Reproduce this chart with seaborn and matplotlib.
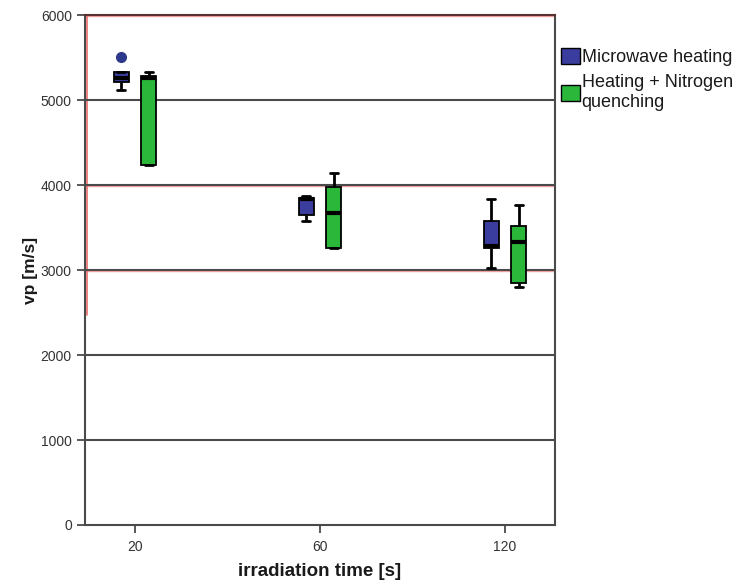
import matplotlib
matplotlib.use("Agg")
import matplotlib.pyplot as plt
import matplotlib.transforms as mtransforms
from matplotlib.patches import Patch
import pandas as pd
import seaborn as sns

# Irradiation times (categories) and treatment methods (hue)
times = ["20", "60", "120"]
methods = ["Microwave heating", "Heating + Nitrogen quenching"]
legend_labels = ["Microwave heating", "Heating + Nitrogen\nquenching"]

# P-wave velocity measurements [m/s] per method and irradiation time
mw_20 = [5118, 5212, 5259, 5329, 5510]
mw_60 = [3576, 3647, 3830, 3847, 3870]
mw_120 = [3024, 3259, 3280, 3576, 3835]
nq_20 = [4235, 4235, 5262, 5282, 5329]
nq_60 = [3259, 3259, 3670, 3976, 4141]
nq_120 = [2800, 2847, 3329, 3518, 3765]

y_ticks = [0, 1000, 2000, 3000, 4000, 5000, 6000]

groups = {
    (methods[0], "20"): mw_20, (methods[0], "60"): mw_60, (methods[0], "120"): mw_120,
    (methods[1], "20"): nq_20, (methods[1], "60"): nq_60, (methods[1], "120"): nq_120,
}
rows = [(m, t, v) for (m, t), vals in groups.items() for v in vals]
df = pd.DataFrame(rows, columns=["method", "time", "vp"])

blue = "#3a3d9e"
green = "#2bb83a"
grid_col = "#4a4a4a"

sns.set_style("white")
plt.rcParams["font.family"] = ["Liberation Sans", "DejaVu Sans"]

fig = plt.figure(figsize=(7.38, 5.81), dpi=100)
ax = fig.add_axes([85 / 738, 1 - 525 / 581, 470 / 738, 510 / 581])

# horizontal reference lines
for yv in y_ticks[1:-1]:
    ax.axhline(yv, color=grid_col, lw=1.5, zorder=0.5)
# faint red halo along some reference lines and the upper left edge
for yv in [3000, 4000, 6000]:
    ax.axhline(yv - 12, color="#f3a3a3", lw=1.0, zorder=0.4)
trans = mtransforms.blended_transform_factory(ax.transAxes, ax.transData)
ax.plot([0.0035, 0.0035], [2470, 6000], color="#ee7070", lw=1.2,
        transform=trans, zorder=0.4, clip_on=False)

sns.boxplot(
    data=df, x="time", y="vp", hue="method",
    order=times, hue_order=methods,
    palette=[blue, green], saturation=1,
    width=0.30, gap=0.46, whis=1.5,
    linecolor="black", linewidth=1.3,
    medianprops=dict(color="black", linewidth=3),
    whiskerprops=dict(color="black", linewidth=2),
    capprops=dict(color="black", linewidth=2),
    flierprops=dict(marker="o", markerfacecolor="#2d3a8c",
                    markeredgecolor="#2d3a8c", markersize=7),
    legend=False, ax=ax,
)

ax.set_xlim(-0.27, 2.27)
ax.set_ylim(0, 6000)
ax.set_yticks(y_ticks)
ax.set_yticklabels([str(v) for v in y_ticks])

for s in ax.spines.values():
    s.set_color(grid_col)
    s.set_linewidth(1.5)
ax.spines["top"].set_color("#5a3030")

ax.tick_params(axis="both", which="both", direction="out", length=6,
               width=1.3, color=grid_col, labelsize=10, labelcolor="#333333",
               bottom=True, left=True)
ax.tick_params(axis="x", pad=5)

ax.set_xlabel("irradiation time [s]", fontsize=13.5, fontweight="bold",
              labelpad=6, color="#1a1a1a")
ax.set_ylabel("vp [m/s]", fontsize=12.5, fontweight="bold",
              labelpad=2, color="#1a1a1a")

handles = [Patch(facecolor=blue, edgecolor="black", lw=1),
           Patch(facecolor=green, edgecolor="black", lw=1)]
fig.legend(handles, legend_labels, loc="upper left",
           bbox_to_anchor=(557 / 738, 1 - 44 / 581), frameon=False,
           fontsize=13, handlelength=1.05, handleheight=1.05,
           handletextpad=0.12, labelspacing=0.45, borderaxespad=0,
           borderpad=0.2, labelcolor="#1a1a1a")

fig.savefig("out.png", dpi=100)
